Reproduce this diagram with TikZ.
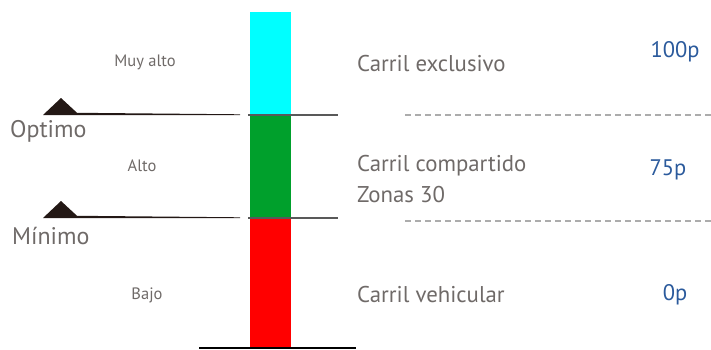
\documentclass[tikz,border=0pt]{standalone}
\usepackage{fontspec}
\setmainfont{PT Sans}
\usetikzlibrary{positioning}
\definecolor{grigio}{HTML}{6F6A68}
\definecolor{blu}{HTML}{2B5A9C}
\definecolor{ciano}{HTML}{00FFFF}
\definecolor{verde}{HTML}{00A02C}
\definecolor{nero}{HTML}{231815}
\tikzset{
    nivel/.style={text=grigio,font=\fontsize{16.5}{18}\selectfont,inner sep=0pt},
    carril/.style={text=grigio,font=\fontsize{22.8}{31}\selectfont,inner sep=0pt,anchor=west,align=left},
    umbral/.style={text=grigio,font=\fontsize{24}{26}\selectfont,inner sep=0pt,anchor=west},
    punti/.style={text=blu,font=\fontsize{22.5}{24}\selectfont,inner sep=0pt}
}
\begin{document}
\begin{tikzpicture}[x=1pt,y=-1pt]
        \useasboundingbox (0,0) rectangle (711,349);
        %disegno barra
        \fill[ciano] (250,12) rectangle (291,115);
        \fill[verde] (250,115) rectangle (291,218);
        \fill[red] (250,218) rectangle (291,349);
        \draw[line width=2pt,black] (199,348)--(356,348);
        %disegno soglie
        \draw[line width=2pt,black!65] (248,115)--(338,115);
        \draw[line width=2pt,black!65] (248,218)--(338,218);
        \fill[nero] (43,115)--(61,98)--(77,112.8)--(240,114.3)--(240,115)--cycle;
        \fill[nero] (43,218)--(61,201)--(77,215.8)--(240,217.3)--(240,218)--cycle;
        \node[umbral] (optimo) at (10,131) {Optimo};
        \node[umbral] (minimo) at (12,236) {Mínimo};
        %disegno livelli
        \node[nivel] (muyalto) at (145,62) {Muy alto};
        \node[nivel] (alto) at (142,166) {Alto};
        \node[nivel] (bajo) at (147,295) {Bajo};
        %disegno linee tratteggiate
        \draw[gray!65,line width=1.5pt,dash pattern=on 6pt off 4pt] (405,115)--(711,115);
        \draw[gray!65,line width=1.5pt,dash pattern=on 6pt off 4pt] (405,221)--(711,221);
        %disegno carriles
        \node[carril] (exclusivo) at (357,64) {Carril exclusivo};
        \node[carril] (compartido) at (357,179) {Carril compartido\\Zonas 30};
        \node[carril] (vehicular) at (357,295) {Carril vehicular};
        %disegno punteggi
        \node[punti] (p100) at (675,52) {100p};
        \node[punti] (p75) at (668,170) {75p};
        \node[punti] (p0) at (675,295) {0p};
\end{tikzpicture}
\end{document}
